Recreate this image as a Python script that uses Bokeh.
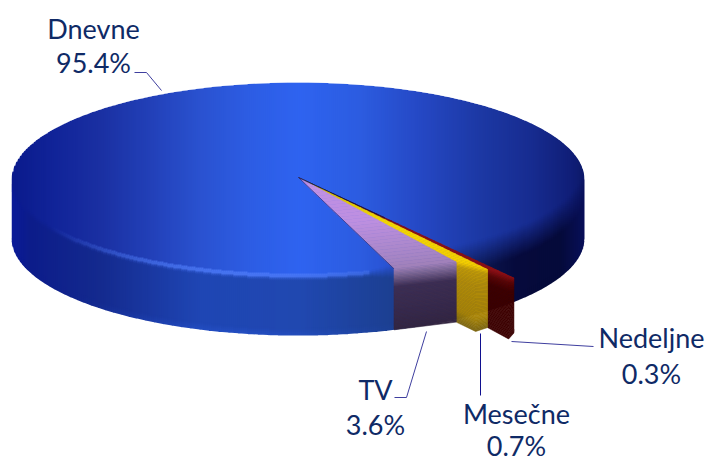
import math
from bokeh.plotting import figure
from bokeh.embed import file_html
from bokeh.resources import INLINE
from bokeh.core.properties import value as bvalue

# ---- chart data
names = ["Dnevne", "TV", "Mesečne", "Nedeljne"]
shares = [95.4, 3.6, 0.7, 0.3]

# ---- drawing parameters
CX, CY, RX, RY, H = 297.5, 179.0, 286.5, 97.0, 59.0
TIP = (298.0, 177.0)
START_DEG = 20.0          # where the first small slice begins, measured from straight down
CORNER_R = [0.98, 1.015, 1.14, 1.265]   # perspective stretch at each slice boundary
CORNER_H = [61, 60, 58, 55]
TOP_STOPS = [(11, "#0a1a8c"), (60, "#12259a"), (100, "#1a30a2"), (150, "#2240b8"), (200, "#2a52d0"),
             (250, "#2d5de4"), (300, "#2e63f0"), (360, "#2c5ce0"), (420, "#2548c4"), (480, "#1c38a4"),
             (530, "#172c90"), (570, "#101e78"), (585, "#0c1868")]
SIDE_STOPS = [(11, "#0a1a98"), (30, "#0c1c8a"), (100, "#142a8e"), (200, "#1f46b4"), (300, "#2048b0"),
              (395, "#1c3f90"), (460, "#0e1e58"), (515, "#060a3c"), (560, "#050a3a"), (585, "#080f5a")]
TEXT_COLOR = "#0f2a66"
LEADER_COLOR = "#3f3f9f"
LABEL_XY = {"Dnevne": (93, 28, 62), "TV": (375, 389, 424), "Mesečne": (516, 413, 445), "Nedeljne": (651, 337, 373)}
LEADERS = [([134, 146, 161], [72, 72, 90], LEADER_COLOR),
           ([394, 406, 426], [397, 397, 331], LEADER_COLOR),
           ([480, 480], [333, 395], "#10108f"),
           ([511, 593], [341, 346], LEADER_COLOR)]


def rgb(h):
    return tuple(int(h[i:i + 2], 16) for i in (1, 3, 5))


def mix(a, b, t):
    t = max(0.0, min(1.0, t))
    return tuple(a[i] + (b[i] - a[i]) * t for i in range(3))


def hx(c):
    return "#%02x%02x%02x" % tuple(int(round(max(0, min(255, v)))) for v in c)


def ramp(stops, x):
    if x <= stops[0][0]:
        return rgb(stops[0][1])
    for (x0, c0), (x1, c1) in zip(stops, stops[1:]):
        if x <= x1:
            return mix(rgb(c0), rgb(c1), (x - x0) / (x1 - x0))
    return rgb(stops[-1][1])


p = figure(width=708, height=462, x_range=(0, 708), y_range=(462, 0), toolbar_location=None,
           output_backend="svg", min_border=0, outline_line_color=None,
           x_axis_location=None, y_axis_location=None)
p.grid.visible = False

# ---- body of the disc: overlapping vertical strips shaded by position
L, R, T, B, C = [], [], [], [], []


def seg(x, y0, y1, c):
    y0, y1 = round(y0), round(y1)
    if y1 > y0:
        L.append(x); R.append(x + 3); T.append(y0); B.append(y1 + 1); C.append(hx(c))


for x in range(11, 585, 2):
    u = (x + 1 - CX) / RX
    s = math.sqrt(max(0.0, 1 - u * u))
    yt, ye = CY - RY * s, CY + RY * s
    top, side = ramp(TOP_STOPS, x + 1), ramp(SIDE_STOPS, x + 1)
    w = 3 if u < 0.25 else 3 + min(1.0, (u - 0.25) / 0.25) * 12
    glow = max(0.0, 1 - ((x + 1 - 240) / 190.0) ** 2)
    seg(x, yt, ye - w, top)
    y = max(yt, ye - w)
    while y < ye + w:
        c = mix(top, side, ((y + 1 - ye) / w + 1) / 2)
        if u < 0.25:
            c = mix(c, (84, 130, 255), 0.85 * glow * math.exp(-(((y + 2 - ye) / 2.2) ** 2)))
        seg(x, y, y + 2, c)
        y += 2
    rim = mix(side, (44, 92, 222), 0.45 * max(0.0, 1 - abs(x - 240) / 170.0))
    rim_top = ye + H - 8
    seg(x, y, rim_top, side)
    y2 = rim_top
    while y2 < ye + H:
        seg(x, y2, y2 + 2, mix(side, rim, (y2 - rim_top) / 8))
        y2 += 2
p.quad(left=L, right=R, top=T, bottom=B, fill_color=C, line_color=None)

# ---- white edge that smooths the stepped outline of the strips
ang = [math.pi * i / 180 for i in range(0, 181, 2)]
ox = [CX - (RX + 2) * math.cos(a) for a in ang]
oy = [CY - (RY + 2) * math.sin(a) for a in ang]
ox2 = [CX + (RX + 2) * math.cos(a) for a in ang]
oy2 = [CY + H + (RY + 2) * math.sin(a) for a in ang]
p.line(ox + ox2 + ox[:1], oy + oy2 + oy[:1], line_color="white", line_width=4)

# ---- the small slices: angles come from their shares
bounds = [START_DEG]
for v in shares[1:]:
    bounds.append(bounds[-1] + v * 3.6)
corners = []
for deg, r in zip(bounds, CORNER_R):
    a = math.radians(deg)
    corners.append((CX + r * RX * math.sin(a), CY + r * RY * math.cos(a)))


def top_bands(c0, c1, stops, n=30):
    xs, ys, cs = [], [], []
    for i in range(n):
        f0, f1 = i / n, (i + 1) / n
        xs.append([TIP[0] + (c0[0] - TIP[0]) * f0, TIP[0] + (c0[0] - TIP[0]) * f1,
                   TIP[0] + (c1[0] - TIP[0]) * f1, TIP[0] + (c1[0] - TIP[0]) * f0])
        ys.append([TIP[1] + (c0[1] - TIP[1]) * f0, TIP[1] + (c0[1] - TIP[1]) * f1,
                   TIP[1] + (c1[1] - TIP[1]) * f1, TIP[1] + (c1[1] - TIP[1]) * f0])
        cs.append(hx(ramp(stops, (f0 + f1) / 2)))
    p.patches(xs, ys, fill_color=cs, line_color=cs, line_width=0.6)


def side_bands(c0, h0, c1, h1, stops, bulge=(0.5, 0), n=45):
    fb, db = bulge
    xm = c0[0] + (c1[0] - c0[0]) * fb
    ym = c0[1] + (c1[1] - c0[1]) * fb
    xs, ys, cs = [], [], []
    hm = (h0 + (h1 - h0) * fb) + db
    for i in range(n):
        f0, f1 = i / n, (i + 1) / n
        xs.append([c0[0], xm, c1[0], c1[0], xm, c0[0]])
        ys.append([c0[1] + h0 * f0, ym + hm * f0, c1[1] + h1 * f0,
                   c1[1] + h1 * f1, ym + hm * f1, c0[1] + h0 * f1])
        cs.append(hx(ramp(stops, (f0 + f1) / 2)))
    p.patches(xs, ys, fill_color=cs, line_color=cs, line_width=0.6)


TV_TOP = [(0, "#7f68c8"), (0.06, "#c090e4"), (0.5, "#bd8fe0"), (0.9, "#a585c4"), (1, "#a080b8")]
TV_SIDE = [(0, "#a080b8"), (0.12, "#7a6490"), (0.3, "#3e2e52"), (0.7, "#38294a"), (1, "#332540")]
YE_TOP = [(0, "#202060"), (0.15, "#d8c000"), (0.5, "#f5d800"), (1, "#f5cf00")]
YE_SIDE = [(0, "#f2c800"), (0.08, "#c09a08"), (0.3, "#b18c0a"), (0.8, "#a88408"), (1, "#7a6410")]
RE_TOP = [(0, "#102050"), (0.25, "#401040"), (0.55, "#8a0f14"), (1, "#8e1014")]
RE_SIDE = [(0, "#8a0f14"), (0.1, "#5a0606"), (0.25, "#3e0000"), (1, "#3a0000")]

top_bands(corners[2], corners[3], RE_TOP)
top_bands(corners[1], corners[2], YE_TOP)
top_bands(corners[0], corners[1], TV_TOP)
side_bands(corners[2], CORNER_H[2], corners[3], CORNER_H[3], RE_SIDE, bulge=(0.8, 7))
side_bands(corners[1], CORNER_H[1], corners[2], CORNER_H[2], YE_SIDE, bulge=(0.62, 6))
side_bands(corners[0], CORNER_H[0], corners[1], CORNER_H[1], TV_SIDE)
p.line([TIP[0], corners[0][0]], [TIP[1], corners[0][1]], line_color="#14267a", line_width=1, line_alpha=0.7)
p.line([TIP[0], TIP[0] + (corners[3][0] - TIP[0]) * 0.4], [TIP[1], TIP[1] + (corners[3][1] - TIP[1]) * 0.4],
       line_color="#0a1440", line_width=1, line_alpha=0.7)

# ---- leader lines and labels
for lx, ly, lc in LEADERS:
    p.line(lx, ly, line_color=lc, line_width=1)

p.text(x=[LABEL_XY[n][0] for n in names], y=[LABEL_XY[n][1] for n in names], text=names,
       text_font=bvalue("Lato"), text_font_size="27px", text_color=TEXT_COLOR,
       text_align="center", text_baseline="middle")
p.text(x=[LABEL_XY[n][0] for n in names], y=[LABEL_XY[n][2] for n in names], text=[f"{v}%" for v in shares],
       text_font=bvalue("Lato"), text_font_size="27px", text_color=TEXT_COLOR,
       text_align="center", text_baseline="middle")

open("out.html", "w").write(file_html(p, INLINE))
